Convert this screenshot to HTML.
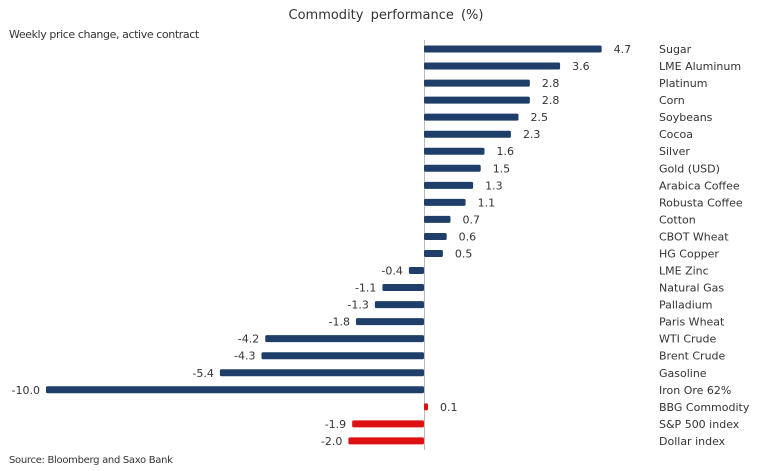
<!DOCTYPE html>
<html><head><meta charset="utf-8"><style>body{margin:0;background:#fff}svg{display:block}text{font-family:"DejaVu Sans","Liberation Sans",sans-serif;fill:#333}</style></head><body>
<svg width="775" height="471" xmlns="http://www.w3.org/2000/svg">
<text x="386" y="19" font-size="13" text-anchor="middle" fill="#222" word-spacing="3">Commodity performance (%)</text>
<text x="9" y="38" font-size="11" fill="#222" letter-spacing="-0.4">Weekly price change, active contract</text>
<text x="9" y="463" font-size="10" fill="#222" letter-spacing="-0.3">Source: Bloomberg and Saxo Bank</text>
<line x1="424.5" y1="40" x2="424.5" y2="450" stroke="#bbb" stroke-width="1"/>
<g id="g"></g>
</svg>
<script>
var d=[["Sugar",4.7],["LME Aluminum",3.6],["Platinum",2.8],["Corn",2.8],["Soybeans",2.5],["Cocoa",2.3],["Silver",1.6],["Gold (USD)",1.5],["Arabica Coffee",1.3],["Robusta Coffee",1.1],["Cotton",0.7],["CBOT Wheat",0.6],["HG Copper",0.5],["LME Zinc",-0.4],["Natural Gas",-1.1],["Palladium",-1.3],["Paris Wheat",-1.8],["WTI Crude",-4.2],["Brent Crude",-4.3],["Gasoline",-5.4],["Iron Ore 62%",-10.0],["BBG Commodity",0.1,1],["S&P 500 index",-1.9,1],["Dollar index",-2.0,1]];
var g=document.getElementById("g"),s="",z=424,k=37.8;
d.forEach(function(r,i){var y=49+i*17.04,v=r[1],w=Math.abs(v)*k,x=v>=0?z:z-w,c=r[2]?"#d11":"#1f3f6a";
s+='<rect x="'+x+'" y="'+(y-3.5)+'" width="'+Math.max(w,4)+'" height="7" rx="1.5" fill="'+c+'"/>';
var t=v.toFixed(1);
if(v>=0)s+='<text x="'+(z+Math.max(w,4)+12)+'" y="'+(y+4)+'" font-size="11">'+t+'</text>';
else s+='<text x="'+(x-6)+'" y="'+(y+4)+'" font-size="11" text-anchor="end">'+t+'</text>';
s+='<text x="659" y="'+(y+4)+'" font-size="11">'+r[0].replace("&","&amp;")+'</text>';});
g.innerHTML=s;
</script>
</body></html>
